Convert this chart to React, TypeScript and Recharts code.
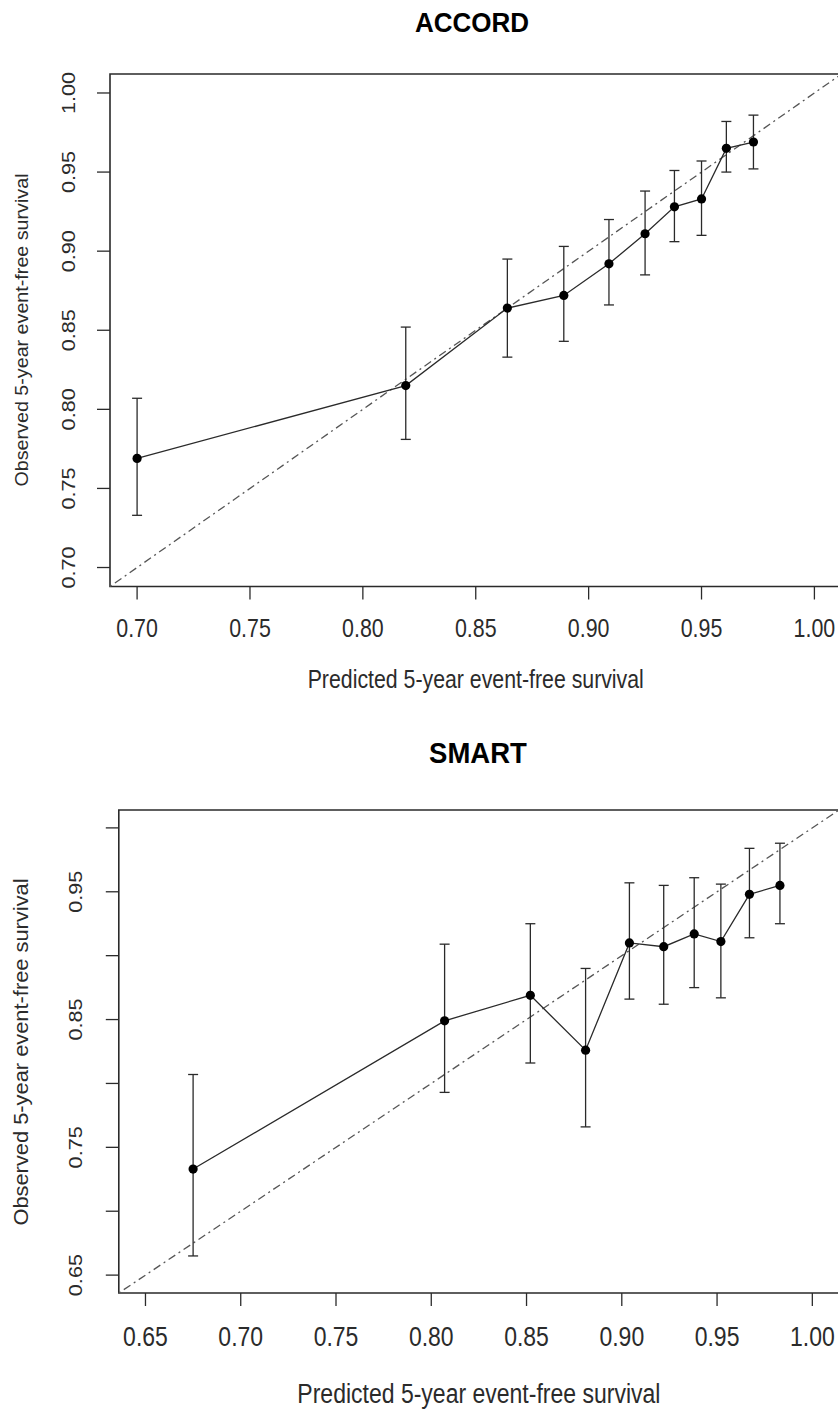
import React from 'react';
import { ComposedChart, Scatter, XAxis, YAxis, ErrorBar, ReferenceLine, ReferenceArea } from 'recharts';

// ACCORD panel
const ACCORD_PRED = [0.700, 0.819, 0.864, 0.889, 0.909, 0.925, 0.938, 0.950, 0.961, 0.973];
const ACCORD_OBS = [0.769, 0.815, 0.864, 0.872, 0.892, 0.911, 0.928, 0.933, 0.965, 0.969];
const ACCORD_LOW = [0.733, 0.781, 0.833, 0.843, 0.866, 0.885, 0.906, 0.910, 0.950, 0.952];
const ACCORD_HIGH = [0.807, 0.852, 0.895, 0.903, 0.920, 0.938, 0.951, 0.957, 0.982, 0.986];
const ACCORD_X_TICKS = [0.70, 0.75, 0.80, 0.85, 0.90, 0.95, 1.00];
const ACCORD_Y_TICKS = [0.70, 0.75, 0.80, 0.85, 0.90, 0.95, 1.00];
const ACCORD_Y_LABELED = [0.70, 0.75, 0.80, 0.85, 0.90, 0.95, 1.00];
const ACCORD_LIMITS = [0.688, 1.012];

// SMART panel
const SMART_PRED = [0.675, 0.807, 0.852, 0.881, 0.904, 0.922, 0.938, 0.952, 0.967, 0.983];
const SMART_OBS = [0.733, 0.849, 0.869, 0.826, 0.910, 0.907, 0.917, 0.911, 0.948, 0.955];
const SMART_LOW = [0.665, 0.793, 0.816, 0.766, 0.866, 0.862, 0.875, 0.867, 0.914, 0.925];
const SMART_HIGH = [0.807, 0.909, 0.925, 0.890, 0.957, 0.955, 0.961, 0.956, 0.984, 0.988];
const SMART_X_TICKS = [0.65, 0.70, 0.75, 0.80, 0.85, 0.90, 0.95, 1.00];
const SMART_Y_TICKS = [0.65, 0.70, 0.75, 0.80, 0.85, 0.90, 0.95, 1.00];
const SMART_Y_LABELED = [0.65, 0.75, 0.85, 0.95];
const SMART_LIMITS = [0.636, 1.014];

const X_TITLE = 'Predicted 5-year event-free survival';
const Y_TITLE = 'Observed 5-year event-free survival';

const FONT = '"Liberation Sans", Arial, Helvetica, sans-serif';
const INK = '#2b2b2b';
const STRETCH = 1.17; // the reference image is stretched vertically

type PanelProps = {
  title: string;
  pred: number[];
  obs: number[];
  low: number[];
  high: number[];
  xTicks: number[];
  yTicks: number[];
  yLabeled: number[];
  limits: number[];
  top: number;
  height: number;
  plotLeft: number;
  plotRight: number;
  plotTop: number;
  plotBottom: number;
  xLabelY: number;
  yLabelX: number;
  xTitleY: number;
  titleY: number;
  titleX: number;
  xTickFont: number;
  yTickFont: number;
  xTitleFont: number;
  yTitleFont: number;
  yTitleStretch: number;
  titleFont: number;
};

const CHART_W = 860;

function Panel(p: PanelProps) {
  const rows = p.pred.map((x, i) => ({
    x,
    y: p.obs[i],
    err: [p.obs[i] - p.low[i], p.high[i] - p.obs[i]],
  }));
  const yAxisW = 50;
  const xAxisH = p.height - (p.plotBottom - p.top);
  const margin = {
    top: p.plotTop - p.top,
    left: p.plotLeft - yAxisW,
    right: CHART_W - p.plotRight,
    bottom: 0,
  };
  const xLabelLocal = p.xLabelY - p.top;

  const XTick = (props: any) => {
    const { x, payload } = props;
    return (
      <text
        x={0}
        y={0}
        dy="0.36em"
        textAnchor="middle"
        transform={`translate(${x},${xLabelLocal}) scale(1,${STRETCH})`}
        fontFamily={FONT}
        fontSize={p.xTickFont}
        fill={INK}
      >
        {Number(payload.value).toFixed(2)}
      </text>
    );
  };
  const YTick = (props: any) => {
    const { y, payload } = props;
    const v = Number(payload.value);
    if (!p.yLabeled.some((t) => Math.abs(t - v) < 1e-6)) return <g />;
    return (
      <text
        x={0}
        y={0}
        dy="0.36em"
        textAnchor="middle"
        transform={`translate(${p.yLabelX},${y}) rotate(-90) scale(${STRETCH},1)`}
        fontFamily={FONT}
        fontSize={p.yTickFont}
        fill={INK}
      >
        {v.toFixed(2)}
      </text>
    );
  };

  const dot = (props: any) => <circle cx={props.cx} cy={props.cy} r={4.6} fill="#000" />;
  const plotCx = (p.plotLeft + p.plotRight) / 2;
  const plotCy = (p.plotTop + p.plotBottom) / 2;

  return (
    <>
      <div
        style={{
          position: 'absolute',
          left: p.titleX,
          top: p.titleY,
          transform: 'translate(-50%, -50%) scaleY(1.08)',
          fontFamily: FONT,
          fontWeight: 'bold',
          fontSize: p.titleFont,
          color: '#000',
          whiteSpace: 'nowrap',
          lineHeight: 1,
        }}
      >
        {p.title}
      </div>
      <div style={{ position: 'absolute', left: 0, top: p.top, width: CHART_W, height: p.height }}>
        <ComposedChart width={CHART_W} height={p.height} margin={margin}>
          <XAxis
            type="number"
            dataKey="x"
            domain={p.limits}
            ticks={p.xTicks}
            allowDataOverflow
            height={xAxisH}
            axisLine={false}
            tickLine={{ stroke: INK, strokeWidth: 1.3 }}
            tickSize={13}
            tick={XTick}
            interval={0}
          />
          <YAxis
            type="number"
            dataKey="y"
            domain={p.limits}
            ticks={p.yTicks}
            allowDataOverflow
            width={yAxisW}
            axisLine={false}
            tickLine={{ stroke: INK, strokeWidth: 1.3 }}
            tickSize={13}
            tick={YTick}
            interval={0}
          />
          <ReferenceArea
            x1={p.limits[0]}
            x2={p.limits[1]}
            y1={p.limits[0]}
            y2={p.limits[1]}
            fill="none"
            fillOpacity={0}
            stroke="#2a2a2a"
            strokeWidth={1.6}
            ifOverflow="visible"
          />
          <ReferenceLine
            segment={[
              { x: p.limits[0], y: p.limits[0] },
              { x: p.limits[1], y: p.limits[1] },
            ]}
            stroke="#555"
            strokeWidth={1.3}
            strokeDasharray="2 4 8 4"
            ifOverflow="visible"
          />
          <Scatter
            data={rows}
            dataKey="y"
            fill="#000"
            line={{ stroke: '#2a2a2a', strokeWidth: 1.3 }}
            lineType="joint"
            shape={dot}
            isAnimationActive={false}
          >
            <ErrorBar dataKey="err" direction="y" width={5} stroke="#2a2a2a" strokeWidth={1.3} isAnimationActive={false} />
          </Scatter>
        </ComposedChart>
      </div>
      <div
        style={{
          position: 'absolute',
          left: plotCx,
          top: p.xTitleY,
          transform: `translate(-50%, -50%) scaleY(${STRETCH})`,
          fontFamily: FONT,
          fontSize: p.xTitleFont,
          color: INK,
          whiteSpace: 'nowrap',
          lineHeight: 1,
        }}
      >
        {X_TITLE}
      </div>
      <div
        style={{
          position: 'absolute',
          left: 22,
          top: plotCy,
          transform: `translate(-50%, -50%) rotate(-90deg) scaleX(${p.yTitleStretch})`,
          fontFamily: FONT,
          fontSize: p.yTitleFont,
          color: INK,
          whiteSpace: 'nowrap',
          lineHeight: 1,
        }}
      >
        {Y_TITLE}
      </div>
    </>
  );
}

export default function App() {
  return (
    <div
      style={{
        position: 'absolute',
        left: 0,
        top: 0,
        width: 838,
        height: 1409,
        overflow: 'hidden',
        background: '#fff',
      }}
    >
      <Panel
        title="ACCORD"
        pred={ACCORD_PRED}
        obs={ACCORD_OBS}
        low={ACCORD_LOW}
        high={ACCORD_HIGH}
        xTicks={ACCORD_X_TICKS}
        yTicks={ACCORD_Y_TICKS}
        yLabeled={ACCORD_Y_LABELED}
        limits={ACCORD_LIMITS}
        top={0}
        height={700}
        plotLeft={110}
        plotRight={841.5}
        plotTop={74}
        plotBottom={586.5}
        xLabelY={627.5}
        yLabelX={68}
        xTitleY={681}
        titleY={22}
        titleX={472}
        xTickFont={21.4}
        yTickFont={18.5}
        xTitleFont={21.3}
        yTitleFont={18}
        yTitleStretch={1.094}
        titleFont={26}
      />
      <Panel
        title="SMART"
        pred={SMART_PRED}
        obs={SMART_OBS}
        low={SMART_LOW}
        high={SMART_HIGH}
        xTicks={SMART_X_TICKS}
        yTicks={SMART_Y_TICKS}
        yLabeled={SMART_Y_LABELED}
        limits={SMART_LIMITS}
        top={720}
        height={689}
        plotLeft={118.8}
        plotRight={839}
        plotTop={810}
        plotBottom={1293}
        xLabelY={1336.5}
        yLabelX={75}
        xTitleY={1394}
        titleY={753}
        titleX={478}
        xTickFont={23}
        yTickFont={18.5}
        xTitleFont={23}
        yTitleFont={19.5}
        yTitleStretch={1.12}
        titleFont={27.5}
      />
    </div>
  );
}
